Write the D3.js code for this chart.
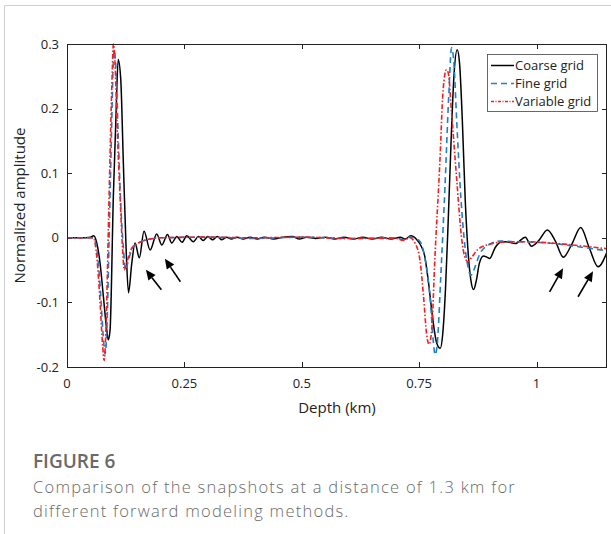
<!DOCTYPE html>
<html><head><meta charset="utf-8">
<script src="https://cdn.jsdelivr.net/npm/d3@7"></script>
<style>
html,body{margin:0;padding:0;background:#fff;}
svg{display:block;}
</style></head>
<body><svg id="c" width="611" height="534"></svg>
<script>
// ---- data (depth in km, normalized amplitude) ----
const seriesNames = ["Coarse grid", "Fine grid", "Variable grid"];
const xTicks = [0, 0.25, 0.5, 0.75, 1];
const xTickLabels = ["0", "0.25", "0.5", "0.75", "1"];
const yTicks = [-0.2, -0.1, 0, 0.1, 0.2, 0.3];
const yTickLabels = ["-0.2", "-0.1", "0", "0.1", "0.2", "0.3"];

const coarse = [
 [0,0],[0.03,0],[0.05,0.001],[0.057,0.003],[0.0634,-0.008],[0.0704,-0.039],[0.0775,-0.091],[0.0847,-0.143],[0.088,-0.158],
 [0.0917,-0.143],[0.0987,0.064],[0.1045,0.193],[0.109,0.276],[0.1145,0.245],[0.12,0.116],[0.1257,-0.013],[0.131,-0.085],
 [0.138,-0.039],[0.1449,-0.008],[0.154,-0.031],[0.164,0.010],[0.177,-0.019],[0.191,0.006],[0.202,-0.011],[0.214,0.005],
 [0.223,-0.008],[0.234,0.002],[0.245,-0.007],[0.255,0.003],[0.269,-0.006],[0.28,0.002],[0.29,-0.004],[0.30,0.002],
 [0.31,-0.003],[0.32,0.002],[0.33,-0.003],[0.34,0.001],[0.35,-0.002],[0.362,0.001],[0.375,-0.002],[0.39,0.001],
 [0.405,-0.002],[0.42,0.001],[0.44,-0.002],[0.46,0.001],[0.48,0.002],[0.495,-0.002],[0.51,0.001],[0.53,-0.001],
 [0.55,0.001],[0.57,-0.002],[0.59,0.001],[0.61,-0.002],[0.63,0.001],[0.65,-0.002],[0.67,0.001],[0.69,-0.002],
 [0.71,0.001],[0.72,-0.002],[0.732,0.003],[0.745,-0.003],[0.752,-0.01],[0.762,-0.029],[0.77,-0.07],[0.778,-0.12],
 [0.787,-0.162],[0.795,-0.171],[0.80,-0.15],[0.806,-0.08],[0.812,0.03],[0.818,0.15],[0.824,0.25],[0.831,0.291],
 [0.836,0.27],[0.842,0.18],[0.848,0.06],[0.854,-0.02],[0.86,-0.065],[0.866,-0.08],[0.872,-0.065],[0.878,-0.04],
 [0.887,-0.028],[0.894,-0.03],[0.90,-0.032],[0.912,-0.015],[0.923,-0.007],[0.934,-0.006],[0.955,-0.009],[0.976,0.001],
 [0.989,-0.013],[1.005,-0.004],[1.023,0.012],[1.04,-0.005],[1.057,-0.03],[1.075,-0.01],[1.094,0.016],[1.112,-0.015],
 [1.131,-0.045],[1.15,-0.022]
];
const fine = [
 [0,0],[0.05,0],[0.056,0],[0.064,-0.02],[0.071,-0.08],[0.077,-0.15],[0.081,-0.18],[0.085,-0.14],[0.09,0.01],[0.095,0.17],
 [0.098,0.26],[0.1005,0.29],[0.104,0.265],[0.109,0.16],[0.114,0.06],[0.12,-0.015],[0.125,-0.05],[0.129,-0.04],[0.14,-0.015],
 [0.155,-0.007],[0.175,-0.002],[0.2,0],[0.3,0.001],[0.4,-0.001],[0.5,0.001],[0.6,-0.001],[0.7,0],[0.716,-0.003],
 [0.73,0.001],[0.745,-0.002],[0.752,-0.006],[0.762,-0.03],[0.774,-0.1],[0.78,-0.16],[0.784,-0.181],[0.789,-0.16],
 [0.796,-0.06],[0.805,0.08],[0.813,0.22],[0.819,0.294],[0.824,0.27],[0.83,0.18],[0.839,0.06],[0.847,-0.01],[0.854,-0.045],
 [0.86,-0.058],[0.869,-0.045],[0.879,-0.025],[0.9,-0.01],[0.922,-0.005],[0.95,-0.006],[1.0,-0.007],[1.05,-0.01],
 [1.1,-0.015],[1.15,-0.02]
];
const variable = [
 [0,0],[0.05,0],[0.056,0],[0.0634,-0.029],[0.0704,-0.1],[0.076,-0.168],[0.079,-0.19],[0.083,-0.142],[0.088,0.012],
 [0.093,0.167],[0.0965,0.26],[0.0987,0.30],[0.102,0.275],[0.107,0.167],[0.113,0.064],[0.118,-0.013],[0.122,-0.05],
 [0.127,-0.039],[0.138,-0.016],[0.152,-0.008],[0.17,-0.003],[0.2,0],[0.3,0.001],[0.4,0],[0.5,0.001],[0.6,-0.001],
 [0.7,-0.001],[0.716,-0.004],[0.73,0],[0.741,-0.008],[0.752,-0.036],[0.759,-0.088],[0.766,-0.15],[0.771,-0.165],
 [0.777,-0.14],[0.783,-0.039],[0.794,0.116],[0.801,0.229],[0.808,0.26],[0.812,0.255],[0.819,0.193],[0.83,0.09],
 [0.84,0.002],[0.847,-0.029],[0.854,-0.037],[0.862,-0.03],[0.875,-0.018],[0.9,-0.01],[0.922,-0.007],[0.98,-0.006],
 [1.03,-0.008],[1.09,-0.012],[1.15,-0.017]
];
// annotation arrows: [tailX, tailY, tipX, tipY] in data units
const arrows = [
 [0.201,-0.0805,0.168,-0.0495],
 [0.2415,-0.068,0.2085,-0.0325],
 [1.0277,-0.0836,1.0564,-0.0472],
 [1.0883,-0.0913,1.1202,-0.0519]
];
const xTitle = "Depth (km)";
const yTitle = "Normalized amplitude";
const figLabel = "FIGURE 6";
const captionLines = ["Comparison of the snapshots at a distance of 1.3 km for", "different forward modeling methods."];

// ---- drawing ----
const svg = d3.select("#c");
const L = 67, R = 607, T = 44, B = 367;
const x = d3.scaleLinear().domain([0, 1.15]).range([L, R]);
const y = d3.scaleLinear().domain([-0.2, 0.3]).range([B, T]);
const font = "'Open Sans', 'Noto Sans', sans-serif";

// page frame
svg.append("path").attr("d", "M4.5,534 V5.5 H611").attr("fill", "none").attr("stroke", "#cfcfcf").attr("stroke-width", 1);

svg.append("defs").append("clipPath").attr("id", "clip")
  .append("rect").attr("x", L).attr("y", T - 2).attr("width", R - L).attr("height", B - T + 4);

const tickLen = 5;
const ax = svg.append("g").attr("stroke", "#222").attr("stroke-width", 1);
xTicks.forEach(t => {
  const px = Math.round(x(t)) + 0.5;
  ax.append("line").attr("x1", px).attr("x2", px).attr("y1", B).attr("y2", B - tickLen);
  ax.append("line").attr("x1", px).attr("x2", px).attr("y1", T).attr("y2", T + tickLen);
});
yTicks.forEach(t => {
  const py = Math.round(y(t)) + 0.5;
  ax.append("line").attr("x1", L).attr("x2", L + tickLen).attr("y1", py).attr("y2", py);
  ax.append("line").attr("x1", R).attr("x2", R - tickLen).attr("y1", py).attr("y2", py);
});

// curves
const line = d3.line().x(d => x(d[0])).y(d => y(d[1])).curve(d3.curveMonotoneX);
const plot = svg.append("g").attr("clip-path", "url(#clip)");
plot.append("path").datum(coarse).attr("d", line).attr("fill", "none").attr("stroke", "#000").attr("stroke-width", 1.5);
plot.append("path").datum(fine).attr("d", line).attr("fill", "none").attr("stroke", "#1f7fd0").attr("stroke-width", 1.6).attr("stroke-dasharray", "6,4");
plot.append("path").datum(variable).attr("d", line).attr("fill", "none").attr("stroke", "#ff1a1a").attr("stroke-width", 1.6).attr("stroke-dasharray", "5,2,1.5,2");

// box
svg.append("rect").attr("x", L + 0.5).attr("y", T + 0.5).attr("width", R - L - 1).attr("height", B - T)
  .attr("fill", "none").attr("stroke", "#222").attr("stroke-width", 1);

// tick labels
svg.append("g").selectAll("text").data(xTicks).join("text")
  .attr("x", d => x(d)).attr("y", B + 21).attr("text-anchor", "middle")
  .attr("font-family", font).attr("font-size", 13).attr("fill", "#222")
  .text((d, i) => xTickLabels[i]);
svg.append("g").selectAll("text").data(yTicks).join("text")
  .attr("x", L - 8).attr("y", d => y(d) + 4.5).attr("text-anchor", "end")
  .attr("font-family", font).attr("font-size", 13).attr("fill", "#222")
  .text((d, i) => yTickLabels[i]);

// axis titles
svg.append("text").attr("x", (L + R) / 2).attr("y", B + 46).attr("text-anchor", "middle")
  .attr("font-family", font).attr("font-size", 15).attr("fill", "#222").text(xTitle);
svg.append("text").attr("transform", `translate(25,${(T + B) / 2}) rotate(-90)`).attr("text-anchor", "middle")
  .attr("font-family", font).attr("font-size", 15).attr("fill", "#222").text(yTitle);

// arrows
const ag = svg.append("g");
arrows.forEach(a => {
  const x1 = x(a[0]), y1 = y(a[1]), x2 = x(a[2]), y2 = y(a[3]);
  const ang = Math.atan2(y2 - y1, x2 - x1);
  const hl = 10, hw = 4.5;
  const bx = x2 - hl * Math.cos(ang), by = y2 - hl * Math.sin(ang);
  ag.append("line").attr("x1", x1).attr("y1", y1).attr("x2", bx).attr("y2", by).attr("stroke", "#000").attr("stroke-width", 1.6);
  const p = [[x2, y2], [bx + hw * Math.sin(ang), by - hw * Math.cos(ang)], [bx - hw * Math.sin(ang), by + hw * Math.cos(ang)]];
  ag.append("path").attr("d", "M" + p.join("L") + "Z").attr("fill", "#000");
});

// legend
const lg = svg.append("g");
lg.append("rect").attr("x", 487.5).attr("y", 54.5).attr("width", 110).attr("height", 57).attr("fill", "#fff").attr("stroke", "#444").attr("stroke-width", 0.8);
const legStyles = [
  {stroke: "#000", dash: null},
  {stroke: "#1f7fd0", dash: "6,4"},
  {stroke: "#ff1a1a", dash: "3,1.5,1,1.5"}
];
seriesNames.forEach((n, i) => {
  const yy = 65.5 + i * 18;
  lg.append("line").attr("x1", 491).attr("x2", 514).attr("y1", yy).attr("y2", yy)
    .attr("stroke", legStyles[i].stroke).attr("stroke-width", 1.5).attr("stroke-dasharray", legStyles[i].dash);
  lg.append("text").attr("x", 515).attr("y", yy + 4.6).attr("font-family", font).attr("font-size", 13).attr("fill", "#222").text(n);
});

// caption
svg.append("text").attr("x", 33).attr("y", 468).attr("font-family", font).attr("font-size", 19).attr("font-weight", 600)
  .attr("fill", "#6a6a6a").text(figLabel);
const capFs = 16.5;
let capLS = 0;
captionLines.forEach((t, i) => {
  const tx = svg.append("text").attr("x", 33).attr("y", 493 + i * 24).attr("font-family", font).attr("font-size", capFs)
    .attr("font-weight", 300).attr("fill", "#6a6a6a").text(t);
  if (i === 0) {
    const w = tx.node().getComputedTextLength();
    if (w > 0) capLS = (483 - w) / t.length;
  }
  tx.attr("letter-spacing", capLS);
});
</script></body></html>
